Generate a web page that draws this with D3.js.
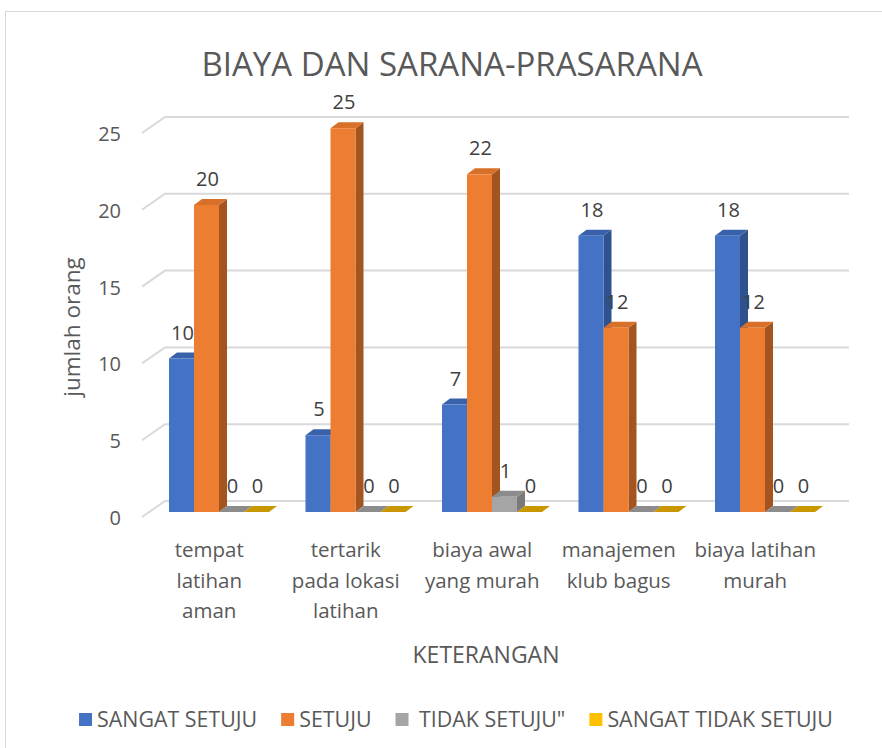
<!DOCTYPE html>
<html><head><meta charset="utf-8">
<script src="https://cdn.jsdelivr.net/npm/d3@7"></script>
<style>
html,body{margin:0;padding:0;background:#fff;}
text{font-family:"Open Sans",sans-serif;fill:#595959;}
</style></head>
<body>
<svg id="chart" width="882" height="748"></svg>
<script>
const title = "BIAYA DAN SARANA-PRASARANA";
const yAxisTitle = "jumlah orang";
const xAxisTitle = "KETERANGAN";
const categoryLines = [
  ["tempat","latihan","aman"],
  ["tertarik","pada lokasi","latihan"],
  ["biaya awal","yang murah"],
  ["manajemen","klub bagus"],
  ["biaya latihan","murah"]
];
const categories = categoryLines.map(l => l.join(" "));
const seriesNames = ["SANGAT SETUJU","SETUJU"," TIDAK SETUJU\"","SANGAT TIDAK SETUJU"];
const sangatSetuju = [10,5,7,18,18];
const setuju = [20,25,22,12,12];
const tidakSetuju = [0,0,1,0,0];
const sangatTidakSetuju = [0,0,0,0,0];
const seriesValues = [sangatSetuju, setuju, tidakSetuju, sangatTidakSetuju];
const yTicks = [0,5,10,15,20,25];

const colors = ["#4472C4","#ED7D31","#A5A5A5","#FFC000"];
const sideColors = ["#2F528F","#A3541F","#7A7A7A","#B08500"];
const topColors = ["#3A62AA","#D9702A","#8C8C8C","#C99800"];

const svg = d3.select("#chart");

// frame
svg.append("rect").attr("x",5.5).attr("y",11.5).attr("width",1000).attr("height",1000)
  .attr("fill","none").attr("stroke","#d9d9d9").attr("stroke-width",1);

// title
svg.append("text").attr("x",452).attr("y",76).attr("text-anchor","middle")
  .style("font-size","33px").text(title);

const x = d3.scaleBand().domain(categories).range([141, 141+5*136.5]).paddingInner(0).paddingOuter(0);
const xs = d3.scaleBand().domain(seriesNames).range([28, 28+4*25]);
const yFront = d3.scaleLinear().domain([0,25]).range([512, 512-25*15.35]);
const yBack = d3.scaleLinear().domain([0,25]).range([501, 117]);

const depthX = 8, depthY = -6;
const wallX0 = 142, wallX1 = 165, wallRight = 849, wallDY = 16;

// gridlines
const grid = svg.append("g");
yTicks.forEach(t => {
  const yb = yBack(t);
  grid.append("path")
    .attr("d", `M${wallX0},${yb+wallDY} L${wallX1},${yb} L${wallRight},${yb}`)
    .attr("fill","none").attr("stroke","#d9d9d9").attr("stroke-width",2);
});

// y tick labels
const yAxis = d3.axisLeft(yBack).tickValues(yTicks).tickSize(0).tickPadding(0);
const yg = svg.append("g").attr("transform",`translate(121,${wallDY+1})`).call(yAxis);
yg.select(".domain").remove();
yg.selectAll("text").style("font-size","20px").attr("fill","#595959").style("font-family","'Open Sans',sans-serif");

// y title
svg.append("text").attr("transform","translate(80,327) rotate(-90)").attr("text-anchor","middle")
  .style("font-size","22.5px").text(yAxisTitle);

// bars
const barW = xs.bandwidth();
const barsG = svg.append("g");
categories.forEach((c, ci) => {
  seriesNames.forEach((s, si) => {
    const v = seriesValues[si][ci];
    const x0 = x(c) + xs(s);
    const x1 = x0 + barW;
    const yb = yFront(0), yt = yFront(v);
    const g = barsG.append("g");
    g.append("path").attr("d",`M${x1},${yb} L${x1+depthX},${yb+depthY} L${x1+depthX},${yt+depthY} L${x1},${yt} Z`)
      .attr("fill",sideColors[si]);
    g.append("path").attr("d",`M${x0},${yt} L${x0+depthX},${yt+depthY} L${x1+depthX},${yt+depthY} L${x1},${yt} Z`)
      .attr("fill",topColors[si]);
    if (v > 0) {
      g.append("rect").attr("x",x0).attr("y",yt).attr("width",barW).attr("height",yb-yt)
        .attr("fill",colors[si]);
    }
  });
});
// data labels
categories.forEach((c, ci) => {
  seriesNames.forEach((s, si) => {
    const v = seriesValues[si][ci];
    const cx = x(c) + xs(s) + barW/2 + 1;
    svg.append("text").attr("x",cx).attr("y",yFront(v)-19).attr("text-anchor","middle")
      .style("font-size","20px").style("fill","#404040").text(v);
  });
});

// category labels
categories.forEach((c, ci) => {
  const t = svg.append("text").attr("text-anchor","middle").style("font-size","20.5px");
  categoryLines[ci].forEach((line, li) => {
    t.append("tspan").attr("x", x(c) + x.bandwidth()/2).attr("y", 557 + li*30.5).text(line);
  });
});

// x title
svg.append("text").attr("x",486).attr("y",663).attr("text-anchor","middle")
  .style("font-size","23px").text(xAxisTitle);

// legend
const leg = svg.append("g");
const items = [];
seriesNames.forEach((s, si) => {
  const g = leg.append("g");
  g.append("rect").attr("x",0).attr("y",-6).attr("width",13).attr("height",13).attr("fill",colors[si]);
  const t = g.append("text").attr("x",18).attr("y",8).style("font-size","21.4px").style("white-space","pre")
    .attr("xml:space","preserve").text(s);
  const w = 18 + t.node().getComputedTextLength();
  items.push({g, w});
});
const gap = 24;
const total = d3.sum(items, d => d.w) + gap*(items.length-1);
let lx = 456 - total/2;
items.forEach(it => { it.g.attr("transform",`translate(${lx},719)`); lx += it.w + gap; });
</script>
</body></html>
